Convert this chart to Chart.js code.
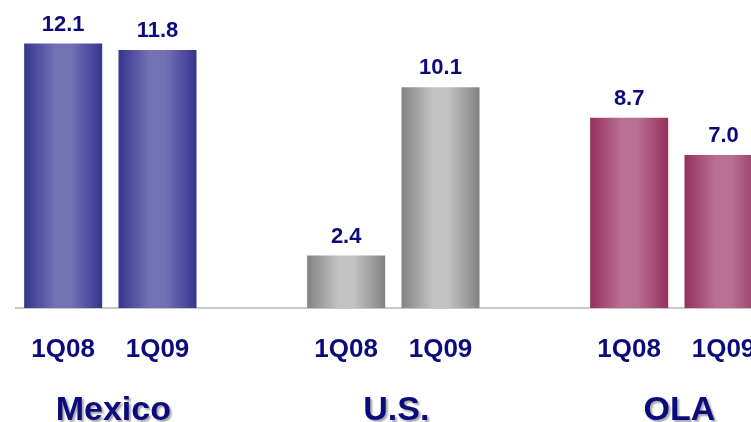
<!DOCTYPE html>
<html>
<head>
<meta charset="utf-8">
<script src="https://cdn.jsdelivr.net/npm/chart.js@4/dist/chart.umd.min.js"></script>
<style>
  html, body { margin: 0; padding: 0; background: #ffffff; overflow: hidden; width: 751px; height: 422px; }
  #wrap { position: absolute; left: 0; top: 0; width: 865px; height: 422px; }
</style>
</head>
<body>
<div id="wrap"><canvas id="c" width="865" height="422"></canvas></div>
<script>
// ---- data ----
const groupNames = ["Mexico", "U.S.", "OLA"];
const periodLabels = ["1Q08", "1Q09"];
const mexicoValues = [12.1, 11.8];
const usValues = [2.4, 10.1];
const olaValues = [8.7, 7.0];

// ---- styles ----
const groupPalettes = [
  { edge: "#36358f", light: "#7371b4" },
  { edge: "#828282", light: "#c3c3c3" },
  { edge: "#96305e", light: "#b87092" }
];
const textColor = "#0c0b7c";
const fontFamily = "Arial, 'Liberation Sans', Helvetica, sans-serif";

// build category table: two bars per group + empty spacer slot
const groupValues = [mexicoValues, usValues, olaValues];
const labels = [];
const data = [];
const groupOf = [];
groupValues.forEach((vals, g) => {
  vals.forEach((v, i) => { labels.push(periodLabels[i]); data.push(v); groupOf.push(g); });
  labels.push(""); data.push(null); groupOf.push(-1);
});

const BAR_PCT = 0.827;

function barGradient(ctx) {
  const chart = ctx.chart;
  const i = ctx.dataIndex;
  const g = groupOf[i];
  if (g < 0 || !chart.chartArea) return "#888";
  const xs = chart.scales.x;
  const cx = xs.getPixelForValue(i);
  const slot = xs.width / labels.length;
  const w = slot * BAR_PCT;
  const x0 = cx - w / 2, x1 = cx + w / 2;
  const p = groupPalettes[g];
  const grad = chart.ctx.createLinearGradient(x0, 0, x1, 0);
  grad.addColorStop(0, p.edge);
  grad.addColorStop(0.4, p.light);
  grad.addColorStop(0.6, p.light);
  grad.addColorStop(1, p.edge);
  return grad;
}

const labelPlugin = {
  id: "labels",
  afterDatasetsDraw(chart) {
    const ctx = chart.ctx;
    const meta = chart.getDatasetMeta(0);
    ctx.save();
    ctx.fillStyle = textColor;
    ctx.textAlign = "center";
    ctx.textBaseline = "alphabetic";
    ctx.font = "bold 22px " + fontFamily;
    meta.data.forEach((el, i) => {
      const v = data[i];
      if (v === null) return;
      ctx.fillText(v.toFixed(1), el.x, el.y - 13);
    });
    // group labels
    const xs = chart.scales.x;
    ctx.font = "bold 34px " + fontFamily;
    ctx.shadowColor = "rgba(0,0,0,0.35)";
    ctx.shadowOffsetX = 2;
    ctx.shadowOffsetY = 2;
    ctx.shadowBlur = 2;
    groupNames.forEach((name, g) => {
      const idx = groupOf.indexOf(g);
      const cx = (xs.getPixelForValue(idx) + xs.getPixelForValue(idx + 1)) / 2;
      ctx.fillText(name, cx + 3, 420);
    });
    ctx.restore();
  }
};

new Chart(document.getElementById("c"), {
  type: "bar",
  data: {
    labels: labels,
    datasets: [{
      data: data,
      backgroundColor: barGradient,
      borderWidth: 0,
      categoryPercentage: 1,
      barPercentage: BAR_PCT
    }]
  },
  options: {
    responsive: false,
    animation: false,
    devicePixelRatio: 1,
    layout: { padding: { left: 16, right: 0, top: 2, bottom: 38.8 } },
    plugins: { legend: { display: false }, tooltip: { enabled: false } },
    scales: {
      x: {
        grid: { display: false },
        border: { display: true, color: "#c8c8c8", width: 2 },
        ticks: {
          color: textColor,
          font: { family: fontFamily, size: 26, weight: "bold" },
          padding: 18,
          maxRotation: 0,
          autoSkip: false
        }
      },
      y: {
        display: false,
        min: 0,
        max: 14
      }
    }
  },
  plugins: [labelPlugin]
});
</script>
</body>
</html>
